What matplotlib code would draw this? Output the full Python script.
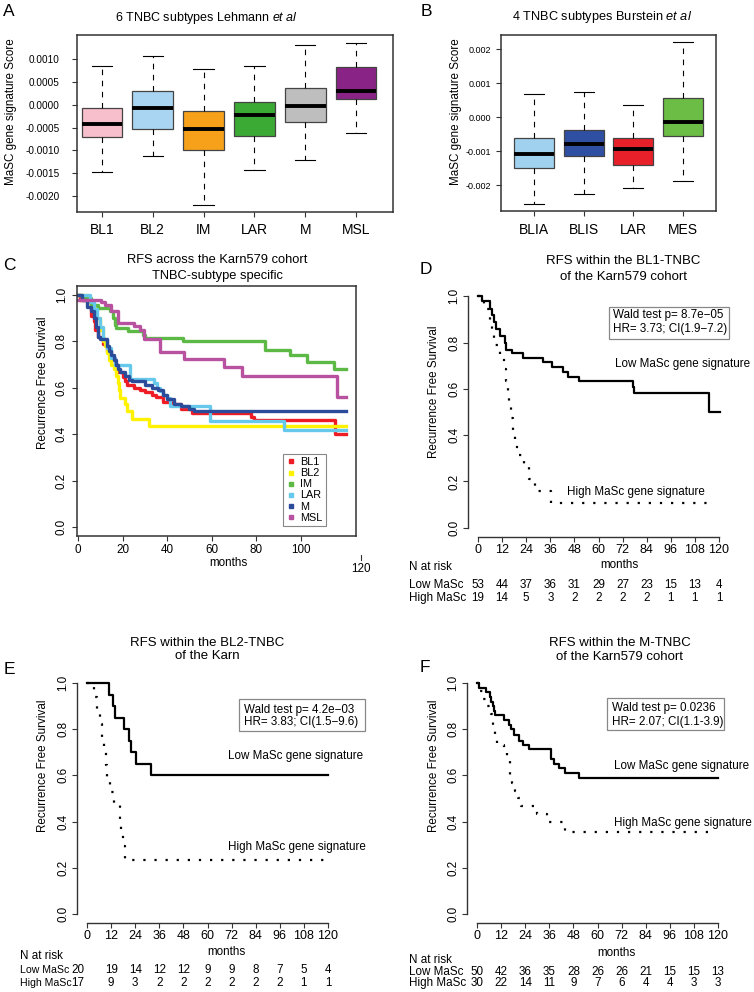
import matplotlib
matplotlib.use('Agg')
import matplotlib.pyplot as plt
import matplotlib.transforms as mtransforms
from matplotlib.lines import Line2D
from matplotlib.patches import Rectangle

plt.rcParams['font.family'] = ['Liberation Sans', 'DejaVu Sans']
plt.rcParams['axes.unicode_minus'] = False
plt.rcParams['mathtext.fontset'] = 'custom'
plt.rcParams['mathtext.rm'] = 'Liberation Sans'
plt.rcParams['mathtext.it'] = 'Liberation Sans:italic'

# ---------------- data ----------------
# A: Lehmann subtypes (box stats)
lehmann_types = ['BL1', 'BL2', 'IM', 'LAR', 'M', 'MSL']
lehmann_whislo = [-0.00148, -0.00113, -0.00219, -0.00142, -0.00121, -0.00062]
lehmann_q1 = [-0.00071, -0.00054, -0.00100, -0.00069, -0.00037, 0.00012]
lehmann_med = [-0.00042, -0.000065, -0.00052, -0.00023, -0.00003, 0.00031]
lehmann_q3 = [-0.00008, 0.00031, -0.00014, 0.00006, 0.00037, 0.00082]
lehmann_whishi = [0.00084, 0.00107, 0.00079, 0.00085, 0.00131, 0.00135]
lehmann_colors = ['#F7BFCB', '#A9D5F2', '#F7A11A', '#3BAA35', '#BEBEBE', '#8A2386']

# B: Burstein subtypes
burstein_types = ['BLIA', 'BLIS', 'LAR', 'MES']
burstein_whislo = [-0.00256, -0.00225, -0.00209, -0.00186]
burstein_q1 = [-0.00149, -0.00115, -0.00141, -0.00055]
burstein_med = [-0.00109, -0.00078, -0.00093, -0.00013]
burstein_q3 = [-0.00060, -0.00038, -0.00061, 0.00057]
burstein_whishi = [0.00069, 0.00073, 0.00035, 0.00221]
burstein_colors = ['#A0D2F0', '#2E4FA2', '#E8202A', '#6CBD45']

# C: RFS per subtype (step curves, months / survival)
bl1_t = [0, 1, 6, 7, 7.5, 9, 11, 13, 15, 16.5, 18, 20, 21, 22, 25, 28, 30, 33, 35, 38, 42, 46, 51, 77.5, 79, 115.5, 120]
bl1_s = [1.0, 0.98, 0.91, 0.89, 0.85, 0.82, 0.79, 0.76, 0.73, 0.70, 0.67, 0.645, 0.63, 0.61, 0.60, 0.59, 0.58, 0.57, 0.56, 0.54, 0.53, 0.51, 0.49, 0.475, 0.46, 0.40, 0.40]
bl2_t = [0, 4, 6, 8, 10, 11, 12, 13, 14, 15, 16, 17, 18, 18.5, 19, 21, 22, 24, 32, 120]
bl2_s = [1.0, 0.97, 0.95, 0.90, 0.85, 0.80, 0.78, 0.75, 0.72, 0.70, 0.68, 0.65, 0.62, 0.59, 0.555, 0.53, 0.50, 0.465, 0.437, 0.437]
im_t = [0, 2, 6, 9, 14.5, 15.5, 16.5, 17, 22.5, 29, 30, 47, 84, 95, 102.5, 115, 120]
im_s = [1.0, 0.985, 0.957, 0.943, 0.929, 0.90, 0.871, 0.857, 0.843, 0.829, 0.814, 0.80, 0.763, 0.741, 0.712, 0.681, 0.681]
lar_t = [0, 5.5, 7, 8.5, 10, 11, 13, 15, 16.7, 23.4, 33.9, 35.5, 37, 38, 40, 41.3, 59.3, 92.4, 120]
lar_s = [1.0, 0.97, 0.94, 0.90, 0.86, 0.81, 0.77, 0.73, 0.698, 0.64, 0.62, 0.60, 0.585, 0.57, 0.555, 0.52, 0.455, 0.42, 0.42]
m_t = [0, 2, 4, 6, 7, 8, 9, 10, 13, 14, 15, 16, 17, 18, 19, 21, 23, 24, 30, 33, 36, 38, 40, 43, 46, 50, 52, 120]
m_s = [1.0, 0.98, 0.95, 0.93, 0.90, 0.86, 0.82, 0.81, 0.78, 0.76, 0.74, 0.72, 0.70, 0.68, 0.67, 0.65, 0.635, 0.63, 0.61, 0.60, 0.59, 0.57, 0.55, 0.53, 0.52, 0.51, 0.50, 0.50]
msl_t = [0, 10.5, 12, 15, 18, 25, 28, 29.5, 37, 47.5, 65.5, 73.5, 116, 120]
msl_s = [0.98, 0.97, 0.955, 0.93, 0.88, 0.865, 0.85, 0.81, 0.755, 0.725, 0.69, 0.65, 0.56, 0.56]
c_names = ['BL1', 'BL2', 'IM', 'LAR', 'M', 'MSL']
c_colors = ['#EE1C25', '#FFF200', '#5CB946', '#66C8EA', '#2B4B9B', '#B8519F']

# D: BL1-TNBC
d_low_t = [0, 2, 6.1, 7.0, 7.8, 9.1, 11.1, 13.3, 13.8, 17, 22.3, 32.2, 36.9, 42.2, 44.9, 50.2, 77.3, 77.9, 115, 120.5]
d_low_s = [1.0, 0.98, 0.947, 0.92, 0.887, 0.86, 0.83, 0.80, 0.77, 0.757, 0.735, 0.716, 0.696, 0.674, 0.653, 0.636, 0.607, 0.584, 0.50, 0.50]
d_high_t = [0, 1, 3, 6, 7, 8, 11, 13, 14, 14.8, 15.5, 16.3, 17.2, 18.2, 19.2, 23, 25.5, 28.5, 36.5, 116]
d_high_s = [1.0, 0.974, 0.947, 0.895, 0.842, 0.789, 0.737, 0.684, 0.632, 0.579, 0.526, 0.474, 0.421, 0.368, 0.316, 0.263, 0.21, 0.158, 0.105, 0.105]
d_risk_low = [53, 44, 37, 36, 31, 29, 27, 23, 15, 13, 4]
d_risk_high = [19, 14, 5, 3, 2, 2, 2, 2, 1, 1, 1]

# E: BL2-TNBC
e_low_t = [0, 11, 12.9, 13.8, 18.4, 20.9, 21.7, 24.6, 32, 120]
e_low_s = [1.0, 0.95, 0.90, 0.85, 0.80, 0.75, 0.70, 0.65, 0.60, 0.60]
e_high_t = [0, 3.5, 4.8, 6.5, 7.5, 8.5, 9.3, 10, 11.5, 13.5, 16.3, 17, 18, 18.7, 118]
e_high_s = [1.0, 0.941, 0.882, 0.824, 0.765, 0.706, 0.647, 0.588, 0.529, 0.471, 0.412, 0.353, 0.294, 0.235, 0.235]
e_risk_low = [20, 19, 14, 12, 12, 9, 9, 8, 7, 5, 4]
e_risk_high = [17, 9, 3, 2, 2, 2, 2, 2, 2, 1, 1]

# F: M-TNBC
f_low_t = [0, 1, 4.6, 6.3, 7.2, 8, 8.6, 9.1, 13.3, 15.8, 17, 18.6, 20.8, 23, 26, 37, 38.2, 40.7, 44, 51, 120]
f_low_s = [1.0, 0.98, 0.96, 0.94, 0.92, 0.90, 0.88, 0.86, 0.84, 0.82, 0.80, 0.775, 0.75, 0.73, 0.716, 0.673, 0.65, 0.63, 0.61, 0.59, 0.59]
f_high_t = [0, 0.8, 3, 5, 7, 8, 8.7, 10, 13.3, 15, 16.3, 17.5, 19, 20.5, 22, 30, 35, 44, 119]
f_high_s = [1.0, 0.967, 0.933, 0.90, 0.867, 0.80, 0.767, 0.733, 0.70, 0.667, 0.60, 0.567, 0.533, 0.50, 0.467, 0.433, 0.40, 0.357, 0.357]
f_risk_low = [50, 42, 36, 35, 28, 26, 26, 21, 15, 15, 13]
f_risk_high = [30, 22, 14, 11, 9, 7, 6, 4, 4, 3, 3]

risk_months = [0, 12, 24, 36, 48, 60, 72, 84, 96, 108, 120]

# ---------------- layout helpers ----------------
W, H = 754, 992
fig = plt.figure(figsize=(W / 100, H / 100), dpi=100)


def add_ax(l, t, r, b):
    return fig.add_axes([l / W, 1 - b / H, (r - l) / W, (b - t) / H])


def ftext(x, y, s, **kw):
    kw.setdefault('ha', 'center')
    kw.setdefault('va', 'center')
    fig.text(x / W, 1 - y / H, s, **kw)


def style_box_axes(ax):
    for sp in ax.spines.values():
        sp.set_color('#333333')
        sp.set_linewidth(1.1)


def boxpanel(ax, whislo, q1, med, q3, whishi, colors):
    stats = []
    for lo, a, m, b, hi in zip(whislo, q1, med, q3, whishi):
        stats.append(dict(whislo=lo, q1=a, med=m, q3=b, whishi=hi))
    pos = list(range(1, len(stats) + 1))
    bp = ax.bxp(stats, positions=pos, widths=0.8, capwidths=0.4,
                patch_artist=True, showfliers=False,
                boxprops=dict(edgecolor='#444444', linewidth=0.9),
                whiskerprops=dict(color='black', linewidth=0.8, linestyle=(0, (5, 5))),
                capprops=dict(color='black', linewidth=0.8),
                medianprops=dict(color='black', linewidth=2.8, solid_capstyle='butt'))
    for patch, c in zip(bp['boxes'], colors):
        patch.set_facecolor(c)
    return pos


# ---------------- A ----------------
axA = add_ax(77, 35, 393, 212)
pos = boxpanel(axA, lehmann_whislo, lehmann_q1, lehmann_med, lehmann_q3, lehmann_whishi, lehmann_colors)
axA.set_xlim(0.508, 6.728)
axA.set_ylim(-0.002343, 0.001522)
axA.set_xticks(pos)
axA.set_xticklabels(lehmann_types, fontsize=10)
yt = [-0.002, -0.0015, -0.001, -0.0005, 0.0, 0.0005, 0.001]
axA.set_yticks(yt)
axA.set_yticklabels(['%.4f' % v for v in yt], fontsize=7.2)
axA.tick_params(length=3.6, width=0.8, color='#333333')
axA.tick_params(axis='x', pad=4)
axA.tick_params(axis='y', pad=9)
style_box_axes(axA)
ftext(11, 112, 'MaSC gene signature Score', rotation=90, fontsize=8.4)
ftext(206, 18, r'6 TNBC subtypes Lehmann $\it{et\ al}$', fontsize=9)
ftext(9, 11, 'A', fontsize=12.5)

# ---------------- B ----------------
axB = add_ax(501, 35, 716, 211)
pos = boxpanel(axB, burstein_whislo, burstein_q1, burstein_med, burstein_q3, burstein_whishi, burstein_colors)
axB.set_xlim(0.336, 4.664)
axB.set_ylim(-0.002756, 0.00242)
axB.set_xticks(pos)
axB.set_xticklabels(burstein_types, fontsize=10)
yt = [-0.002, -0.001, 0.0, 0.001, 0.002]
axB.set_yticks(yt)
axB.set_yticklabels(['%.3f' % v for v in yt], fontsize=6.5)
axB.tick_params(length=3.6, width=0.8, color='#333333')
axB.tick_params(axis='x', pad=5)
style_box_axes(axB)
ftext(456, 112, 'MaSC gene signature Score', rotation=90, fontsize=8.4)
ftext(602, 17, r'4 TNBC subtypes Burstein $\it{et\ al}$', fontsize=9.2)
ftext(426, 11, 'B', fontsize=12.5)

# ---------------- C ----------------
axC = add_ax(77, 286, 356, 536)
curves = [(bl1_t, bl1_s), (bl2_t, bl2_s), (im_t, im_s), (lar_t, lar_s), (m_t, m_s), (msl_t, msl_s)]
for (t, s), c in zip(curves, c_colors):
    axC.step(t, s, where='post', color=c, lw=2.4)
axC.set_xlim(-0.45, 124.7)
axC.set_ylim(-0.0388, 1.0388)
axC.set_xticks([0, 20, 40, 60, 80, 100])
axC.set_xticklabels(['0', '20', '40', '60', '80', '100'], fontsize=8.4)
axC.set_yticks([0, 0.2, 0.4, 0.6, 0.8, 1.0])
axC.set_yticklabels(['0.0', '0.2', '0.4', '0.6', '0.8', '1.0'], fontsize=8.4,
                    rotation=90, va='center')
axC.tick_params(length=3.6, width=0.8, color='#333333')
axC.tick_params(axis='y', pad=3)
axC.tick_params(axis='x', pad=2)
style_box_axes(axC)
handles = [Line2D([], [], marker='s', linestyle='none', markersize=3.5, color=c) for c in c_colors]
leg = axC.legend(handles, c_names, loc='upper left', bbox_to_anchor=(283 / W, 1 - 454 / H),
                 bbox_transform=fig.transFigure, fontsize=7.8, frameon=True, fancybox=False,
                 edgecolor='#888888', framealpha=1, borderpad=0.3, labelspacing=0.1,
                 handlelength=0.8, handletextpad=0.5, borderaxespad=0)
leg.get_frame().set_linewidth(0.8)
ftext(43, 383, 'Recurrence Free Survival', rotation=90, fontsize=8.4)
ftext(228, 563, 'months', fontsize=8.4)
ftext(217, 260, 'RFS across the Karn579 cohort', fontsize=9.3)
ftext(217, 276, 'TNBC-subtype specific', fontsize=9.3)
ftext(9, 265, 'C', fontsize=12.5)
fig.add_artist(Line2D([361 / W, 361 / W], [1 - 555 / H, 1 - 560 / H], color='#333333', lw=0.8))
ftext(361, 569, '120', fontsize=8.4)


# ---------------- KM panels ----------------
def km_panel(ax, low_t, low_s, high_t, high_s):
    ax.step(low_t, low_s, where='post', color='black', lw=1.6)
    ax.step(high_t, high_s, where='post', color='black', lw=1.6, linestyle=(0, (1, 4)))
    ax.set_xlim(-4.8, 124.8)
    ax.set_ylim(-0.04, 1.04)
    ax.spines['top'].set_visible(False)
    ax.spines['right'].set_visible(False)
    ax.spines['left'].set_bounds(0, 1)
    ax.spines['bottom'].set_bounds(0, 120)
    for sp in ('left', 'bottom'):
        ax.spines[sp].set_color('#333333')
        ax.spines[sp].set_linewidth(1.0)
    ax.set_xticks(risk_months)
    ax.set_xticklabels([str(m) for m in risk_months], fontsize=9)
    ax.set_yticks([0, 0.2, 0.4, 0.6, 0.8, 1.0])
    ax.set_yticklabels(['0.0', '0.2', '0.4', '0.6', '0.8', '1.0'], fontsize=8.4,
                       rotation=90, va='center')
    ax.tick_params(length=3.6, width=0.8, color='#333333')
    ax.tick_params(axis='x', pad=1.5)
    ax.tick_params(axis='y', pad=2)


def stat_box(ax, x0, x1, y0, y1, lines, tx, ty1, ty2):
    ax.add_patch(Rectangle((x0, y1), x1 - x0, y0 - y1, facecolor='white',
                           edgecolor='#888888', lw=0.9, clip_on=False, zorder=3))
    ax.text(tx, ty1, lines[0], fontsize=8.4, va='center', ha='left', zorder=4, clip_on=False)
    ax.text(tx, ty2, lines[1], fontsize=8.4, va='center', ha='left', zorder=4, clip_on=False)


def risk_table(ax, xs, y_head, y_low, y_high, x_lab, low, high, first_x=None, lab_size=8.4):
    tr = mtransforms.blended_transform_factory(ax.transData, fig.transFigure)
    ax.text(x_lab, 1 - y_head / H, 'N at risk', transform=tr, fontsize=8.4, ha='left', va='center')
    ax.text(x_lab, 1 - y_low / H, 'Low MaSc', transform=tr, fontsize=lab_size, ha='left', va='center')
    ax.text(x_lab, 1 - y_high / H, 'High MaSc', transform=tr, fontsize=lab_size, ha='left', va='center')
    for i, (x, a, b) in enumerate(zip(xs, low, high)):
        if i == 0 and first_x is not None:
            x = first_x
        ax.text(x, 1 - y_low / H, str(a), transform=tr, fontsize=8.4, ha='center', va='center')
        ax.text(x, 1 - y_high / H, str(b), transform=tr, fontsize=8.4, ha='center', va='center')


# D
axD = add_ax(468.4, 287, 728.6, 537)
km_panel(axD, d_low_t, d_low_s, d_high_t, d_high_s)
stat_box(axD, 65.2, 125.0, 0.953, 0.815,
         ['Wald test p= 8.7e\u221205', 'HR= 3.73; CI(1.9\u22127.2)'], 67.2, 0.92, 0.86)
axD.text(68.2, 0.707, 'Low MaSc gene signature', fontsize=8.4, ha='left', va='center', clip_on=False)
axD.text(44.3, 0.155, 'High MaSc gene signature', fontsize=8.4, ha='left', va='center', clip_on=False)
risk_table(axD, risk_months, 567, 585, 598, -34.4, d_risk_low, d_risk_high)
ftext(434, 392, 'Recurrence Free Survival', rotation=90, fontsize=8.4)
ftext(619, 565, 'months', fontsize=8.4)
ftext(623, 261, 'RFS within the BL1-TNBC', fontsize=9.5)
ftext(623, 277, 'of the Karn579 cohort', fontsize=9.5)
ftext(426, 270, 'D', fontsize=12.5)

# E
axE = add_ax(77.4, 673.8, 337.6, 923.2)
km_panel(axE, e_low_t, e_low_s, e_high_t, e_high_s)
stat_box(axE, 75.7, 138.4, 0.931, 0.792,
         ['Wald test p= 4.2e\u221203', 'HR= 3.83; CI(1.5\u22129.6)'], 78.2, 0.883, 0.831)
axE.text(70.2, 0.684, 'Low MaSc gene signature', fontsize=8.4, ha='left', va='center', clip_on=False)
axE.text(70.2, 0.29, 'High MaSc gene signature', fontsize=8.4, ha='left', va='center', clip_on=False)
risk_table(axE, risk_months, 956, 970, 983, -33.4, e_risk_low, e_risk_high,
           first_x=-4.5, lab_size=7.6)
ftext(43, 766, 'Recurrence Free Survival', rotation=90, fontsize=8.4)
ftext(226, 952, 'months', fontsize=8.4)
ftext(207, 643, 'RFS within the BL2-TNBC', fontsize=9.5)
ftext(207, 656, 'of the Karn', fontsize=9.5)
ftext(9, 670, 'E', fontsize=12.5)

# F
axF = add_ax(467.4, 673.8, 727.6, 923.2)
km_panel(axF, f_low_t, f_low_s, f_high_t, f_high_s)
stat_box(axF, 64.7, 123.0, 0.935, 0.797,
         ['Wald test p= 0.0236', 'HR= 2.07; CI(1.1-3.9)'], 67.2, 0.892, 0.831)
axF.text(68.2, 0.64, 'Low MaSc gene signature', fontsize=8.4, ha='left', va='center', clip_on=False)
axF.text(68.2, 0.394, 'High MaSc gene signature', fontsize=8.4, ha='left', va='center', clip_on=False)
risk_table(axF, risk_months, 960, 972, 983, -33.9, f_risk_low, f_risk_high)
ftext(434, 766, 'Recurrence Free Survival', rotation=90, fontsize=8.4)
ftext(616, 953, 'months', fontsize=8.4)
ftext(620, 643, 'RFS within the M-TNBC', fontsize=9.5)
ftext(620, 657, 'of the Karn579 cohort', fontsize=9.5)
ftext(425, 667, 'F', fontsize=12.5)

fig.savefig('out.png', dpi=100)
